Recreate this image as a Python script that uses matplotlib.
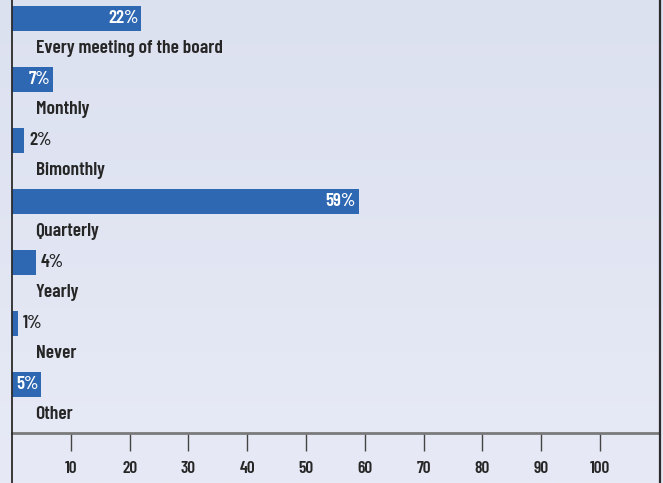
import numpy as np
import matplotlib.pyplot as plt

categories = ['Every meeting of the board', 'Monthly', 'Bimonthly', 'Quarterly',
              'Yearly', 'Never', 'Other']
values = [22, 7, 2, 59, 4, 1, 5]
tick_values = [10, 20, 30, 40, 50, 60, 70, 80, 90, 100]

plt.rcParams['font.family'] = ['Barlow Condensed', 'DejaVu Sans']

W, H = 663, 483
fig = plt.figure(figsize=(W / 100, H / 100), dpi=100)

# background gradient
bg = fig.add_axes([0, 0, 1, 1])
grad = np.linspace(0, 1, 256).reshape(-1, 1)
top = np.array([0xdc, 0xe1, 0xf0]) / 255
bot = np.array([0xe7, 0xea, 0xf6]) / 255
img = top + (bot - top) * grad[..., None]
bg.imshow(img, aspect='auto', extent=[0, 1, 0, 1])
bg.axis('off')

# frame lines
fig.add_artist(plt.Line2D([11.5 / W, 11.5 / W], [0, 1], color='#2b2b2b', lw=1.3))
fig.add_artist(plt.Line2D([659.5 / W, 659.5 / W], [0, 1], color='#2b2b2b', lw=1.6))

x0, x1 = 12, 659
px_per = 5.88
ax_bottom = 433
ax = fig.add_axes([x0 / W, 1 - ax_bottom / H, (x1 - x0) / W, ax_bottom / H])
ax.patch.set_alpha(0)
spacing = 61.0
c0 = 18.5
ax.set_xlim(0, (x1 - x0) / px_per)
ax.set_ylim((ax_bottom - c0) / spacing, -c0 / spacing)

y = np.arange(len(categories))
bar_color = '#2e67b2'
ax.barh(y, values, height=25 / spacing, color=bar_color, left=0)

for i, (cat, v) in enumerate(zip(categories, values)):
    ax.text(4, i + 30 / spacing, cat, ha='left', va='center', fontsize=14,
            fontweight=600, color='#262626')
    if v >= 5:
        ax.text(v - 0.5, i, f'{v}%', ha='right', va='center', fontsize=13.5,
                fontweight=600, color='white')
    else:
        ax.text(v + 0.9, i, f'{v}%', ha='left', va='center', fontsize=13.5,
                fontweight=600, color='#262626')

for s in ['top', 'right', 'left']:
    ax.spines[s].set_visible(False)
ax.spines['bottom'].set_color('#7a7a7a')
ax.spines['bottom'].set_linewidth(2)
ax.set_yticks([])
ax.set_xticks(tick_values)
ax.set_xticklabels([str(t) for t in tick_values], fontsize=12.5, fontweight=600,
                   color='#262626')
ax.tick_params(axis='x', direction='out', length=13, width=1, color='#444444', pad=7)

fig.savefig('out.png', dpi=100)
